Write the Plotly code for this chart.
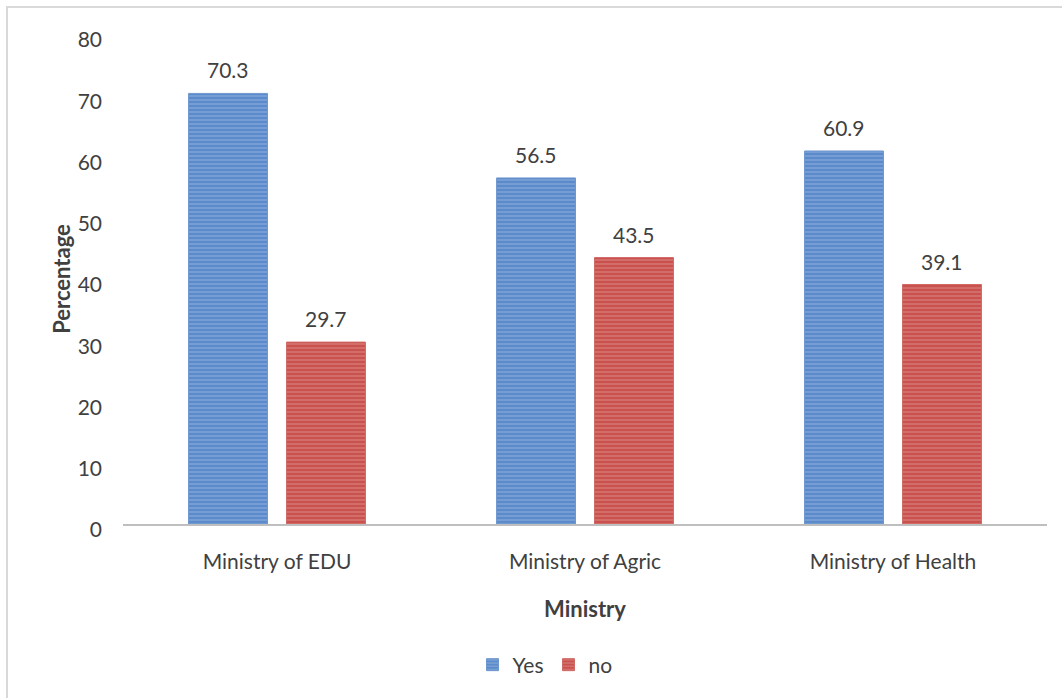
import plotly.graph_objects as go

categories = ["Ministry of EDU", "Ministry of Agric", "Ministry of Health"]
yes_values = [70.3, 56.5, 60.9]
no_values = [29.7, 43.5, 39.1]
y_ticks = [0, 10, 20, 30, 40, 50, 60, 70, 80]

FONT = "Lato"
TXT = "#404040"
FS = 21
L, R, T, B = 123, 15, 34, 174
W, H = 1062, 698
pw, ph = W - L - R, H - T - B

fig = go.Figure()
fig.add_trace(go.Bar(
    name="Yes", x=categories, y=yes_values,
    marker=dict(color="#5B8BCB", line=dict(color="#6F97CF", width=1),
                pattern=dict(shape="-", fgcolor="#A9C2E6", size=4, solidity=0.35)),
))
fig.add_trace(go.Bar(
    name="no", x=categories, y=no_values,
    marker=dict(color="#C9514E", line=dict(color="#D06A67", width=1),
                pattern=dict(shape="-", fgcolor="#E3A09E", size=4, solidity=0.35)),
))

annotations = []
for cat, v in zip(categories, yes_values):
    annotations.append(dict(x=cat, y=v, xref="x", yref="y", text=f"{v:.1f}", showarrow=False,
                            xshift=-49, yanchor="bottom", yshift=9,
                            font=dict(size=FS, color=TXT, family=FONT)))
for cat, v in zip(categories, no_values):
    annotations.append(dict(x=cat, y=v, xref="x", yref="y", text=f"{v:.1f}", showarrow=False,
                            xshift=49, yanchor="bottom", yshift=9,
                            font=dict(size=FS, color=TXT, family=FONT)))

def px_x(p):
    return (p - L) / pw

def px_y(p):
    return (H - B - p) / ph

fig.update_layout(
    width=W, height=H,
    margin=dict(l=L, r=R, t=T, b=B),
    paper_bgcolor="white", plot_bgcolor="white",
    barmode="group", bargap=0.364, bargroupgap=0.194,
    font=dict(family=FONT, color=TXT, size=FS),
    annotations=annotations,
    xaxis=dict(
        showgrid=False, showline=True, linecolor="#BFBFBF", linewidth=2,
        ticks="", ticklabelstandoff=18, tickfont=dict(size=FS, color=TXT),
        title=dict(text="<b>Ministry</b>", font=dict(size=22, color=TXT), standoff=29),
    ),
    yaxis=dict(
        range=[0, 80], tickvals=y_ticks, showgrid=False, zeroline=False,
        showline=False, ticks="", ticklabelstandoff=20, ticklabelshift=6,
        tickfont=dict(size=FS, color=TXT),
        title=dict(text="<b>Percentage</b>", font=dict(size=22, color=TXT), standoff=0),
    ),
    legend=dict(
        orientation="h", x=px_x(545), xanchor="center", y=px_y(665), yanchor="middle",
        font=dict(size=FS, color=TXT), itemwidth=30, traceorder="normal",
    ),
    shapes=[dict(
        type="rect", xref="paper", yref="paper",
        x0=px_x(7), x1=px_x(1075), y0=px_y(715), y1=px_y(7),
        line=dict(color="#D9D9D9", width=2), fillcolor="rgba(0,0,0,0)", layer="below",
    )],
)

fig.write_html("out.html")
